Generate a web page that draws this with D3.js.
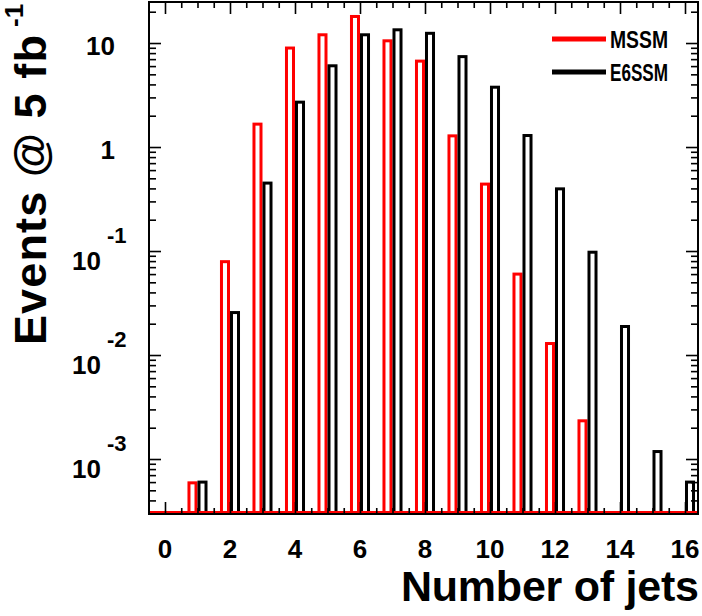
<!DOCTYPE html>
<html>
<head>
<meta charset="utf-8">
<script src="https://cdn.jsdelivr.net/npm/d3@7"></script>
<style>
  body { margin: 0; background: #fff; }
  svg { display: block; font-family: "Liberation Sans", Arial, Helvetica, sans-serif; font-weight: bold; }
</style>
</head>
<body>
<div id="chart"></div>
<script>
// number of jets per bin
const jets = [0, 1, 2, 3, 4, 5, 6, 7, 8, 9, 10, 11, 12, 13, 14, 15, 16]
// events @ 5 fb^-1
const mssm = [0, 0.00059, 0.079, 1.66, 8.95, 12.0, 18.0, 10.5, 6.7, 1.28, 0.44, 0.060, 0.0129, 0.00233, 0, 0, 0]
const e6ssm = [0, 0.0006, 0.0256, 0.45, 2.7, 6.04, 12.0, 13.4, 12.4, 7.4, 3.76, 1.29, 0.396, 0.0974, 0.0188, 0.00118, 0.0006]

const xLabels = [0, 2, 4, 6, 8, 10, 12, 14, 16]
const yMajor = [10, 1, 0.1, 0.01, 0.001]
const yExp = ["", "", "-1", "-2", "-3"]

const width = 702, height = 616
const pLeft = 149, pRight = 698, pTop = 2, pBottom = 514

const svg = d3.select("#chart").append("svg")
  .attr("width", width)
  .attr("height", height)

const x = d3.scaleLinear().domain([-0.492, 16.4]).range([pLeft, pRight])
const y = d3.scaleLog().domain([2.96e-4, 24.8]).range([pBottom, pTop])

// bars: red to the left of the bin, black to the right
const barW = 0.216, gap = 0.046
const base = pBottom - 1.5

function drawBars(vals, color, side) {
  svg.append("g")
    .selectAll("rect")
    .data(jets.filter((d, i) => vals[i] > 0))
    .enter()
    .append("rect")
    .attr("x", d => side < 0 ? x(d - gap - barW) : x(d + gap))
    .attr("width", x(barW) - x(0))
    .attr("y", d => y(vals[d]))
    .attr("height", d => base - y(vals[d]))
    .attr("fill", "none")
    .attr("stroke", color)
    .attr("stroke-width", 3)
}

drawBars(mssm, "#ff0000", -1)
drawBars(e6ssm, "#000000", 1)

// red baseline of the MSSM histogram
svg.append("line")
  .attr("x1", pLeft).attr("x2", pRight)
  .attr("y1", base).attr("y2", base)
  .attr("stroke", "#ff0000").attr("stroke-width", 3)

// minor log ticks
const yMinor = []
for (let e = -4; e <= 1; e++) {
  for (let m = 2; m <= 9; m++) {
    const v = m * Math.pow(10, e)
    if (v > y.domain()[0] && v < y.domain()[1]) yMinor.push(v)
  }
}
const xMinor = d3.range(-0.5, 16.5, 0.5).filter(v => v > -0.49 && xLabels.indexOf(v) < 0)

function ticks(axis, vals, size, tx) {
  const g = svg.append("g")
    .attr("transform", tx)
    .call(axis.tickValues(vals).tickSize(size).tickFormat(""))
  g.select(".domain").remove()
  g.selectAll("line").attr("stroke", "#000").attr("stroke-width", 1.6)
}

ticks(d3.axisLeft(y), yMajor, -12, `translate(${pLeft},0)`)
ticks(d3.axisLeft(y), yMinor, -7, `translate(${pLeft},0)`)
ticks(d3.axisRight(y), yMajor, -12, `translate(${pRight},0)`)
ticks(d3.axisRight(y), yMinor, -7, `translate(${pRight},0)`)
ticks(d3.axisBottom(x), xLabels, -12, `translate(0,${pBottom})`)
ticks(d3.axisBottom(x), xMinor, -6, `translate(0,${pBottom})`)
ticks(d3.axisTop(x), xLabels, -12, `translate(0,${pTop})`)
ticks(d3.axisTop(x), xMinor, -6, `translate(0,${pTop})`)

// frame
svg.append("rect")
  .attr("x", pLeft).attr("y", pTop)
  .attr("width", pRight - pLeft).attr("height", pBottom - pTop)
  .attr("fill", "none").attr("stroke", "#000").attr("stroke-width", 2)

// x tick labels
svg.append("g")
  .selectAll("text")
  .data(xLabels)
  .enter()
  .append("text")
  .attr("x", d => x(d))
  .attr("y", 558)
  .attr("text-anchor", "middle")
  .attr("font-size", 26)
  .text(d => d)

// y tick labels
yMajor.forEach((v, i) => {
  if (yExp[i] === "") {
    svg.append("text")
      .attr("x", 115).attr("y", y(v) + 12)
      .attr("text-anchor", "end")
      .attr("font-size", 26)
      .text(String(v))
  } else {
    svg.append("text")
      .attr("x", 101).attr("y", y(v) + 19)
      .attr("text-anchor", "end")
      .attr("font-size", 26)
      .text("10")
    svg.append("text")
      .attr("x", 107).attr("y", y(v) - 8)
      .attr("font-size", 22)
      .text(yExp[i])
  }
})

// axis titles
svg.append("text")
  .attr("x", pRight + 1).attr("y", 601)
  .attr("text-anchor", "end")
  .attr("font-size", 43)
  .attr("textLength", 298)
  .attr("lengthAdjust", "spacing")
  .text("Number of jets")

svg.append("text")
  .attr("transform", "translate(46,345) rotate(-90)")
  .attr("font-size", 45)
  .attr("textLength", 310)
  .attr("lengthAdjust", "spacing")
  .text("Events @ 5 fb")

svg.append("text")
  .attr("transform", "translate(23,27) rotate(-90)")
  .attr("font-size", 26)
  .text("-1")

// legend
const legend = [["MSSM", "#ff0000", 39], ["E6SSM", "#000000", 72]]
legend.forEach(([name, color, ly]) => {
  svg.append("line")
    .attr("x1", 552).attr("x2", 606)
    .attr("y1", ly).attr("y2", ly)
    .attr("stroke", color).attr("stroke-width", 5)
  svg.append("text")
    .attr("x", 610).attr("y", ly + 9)
    .attr("font-size", 24)
    .attr("textLength", 58)
    .attr("lengthAdjust", "spacingAndGlyphs")
    .text(name)
})
</script>
</body>
</html>
